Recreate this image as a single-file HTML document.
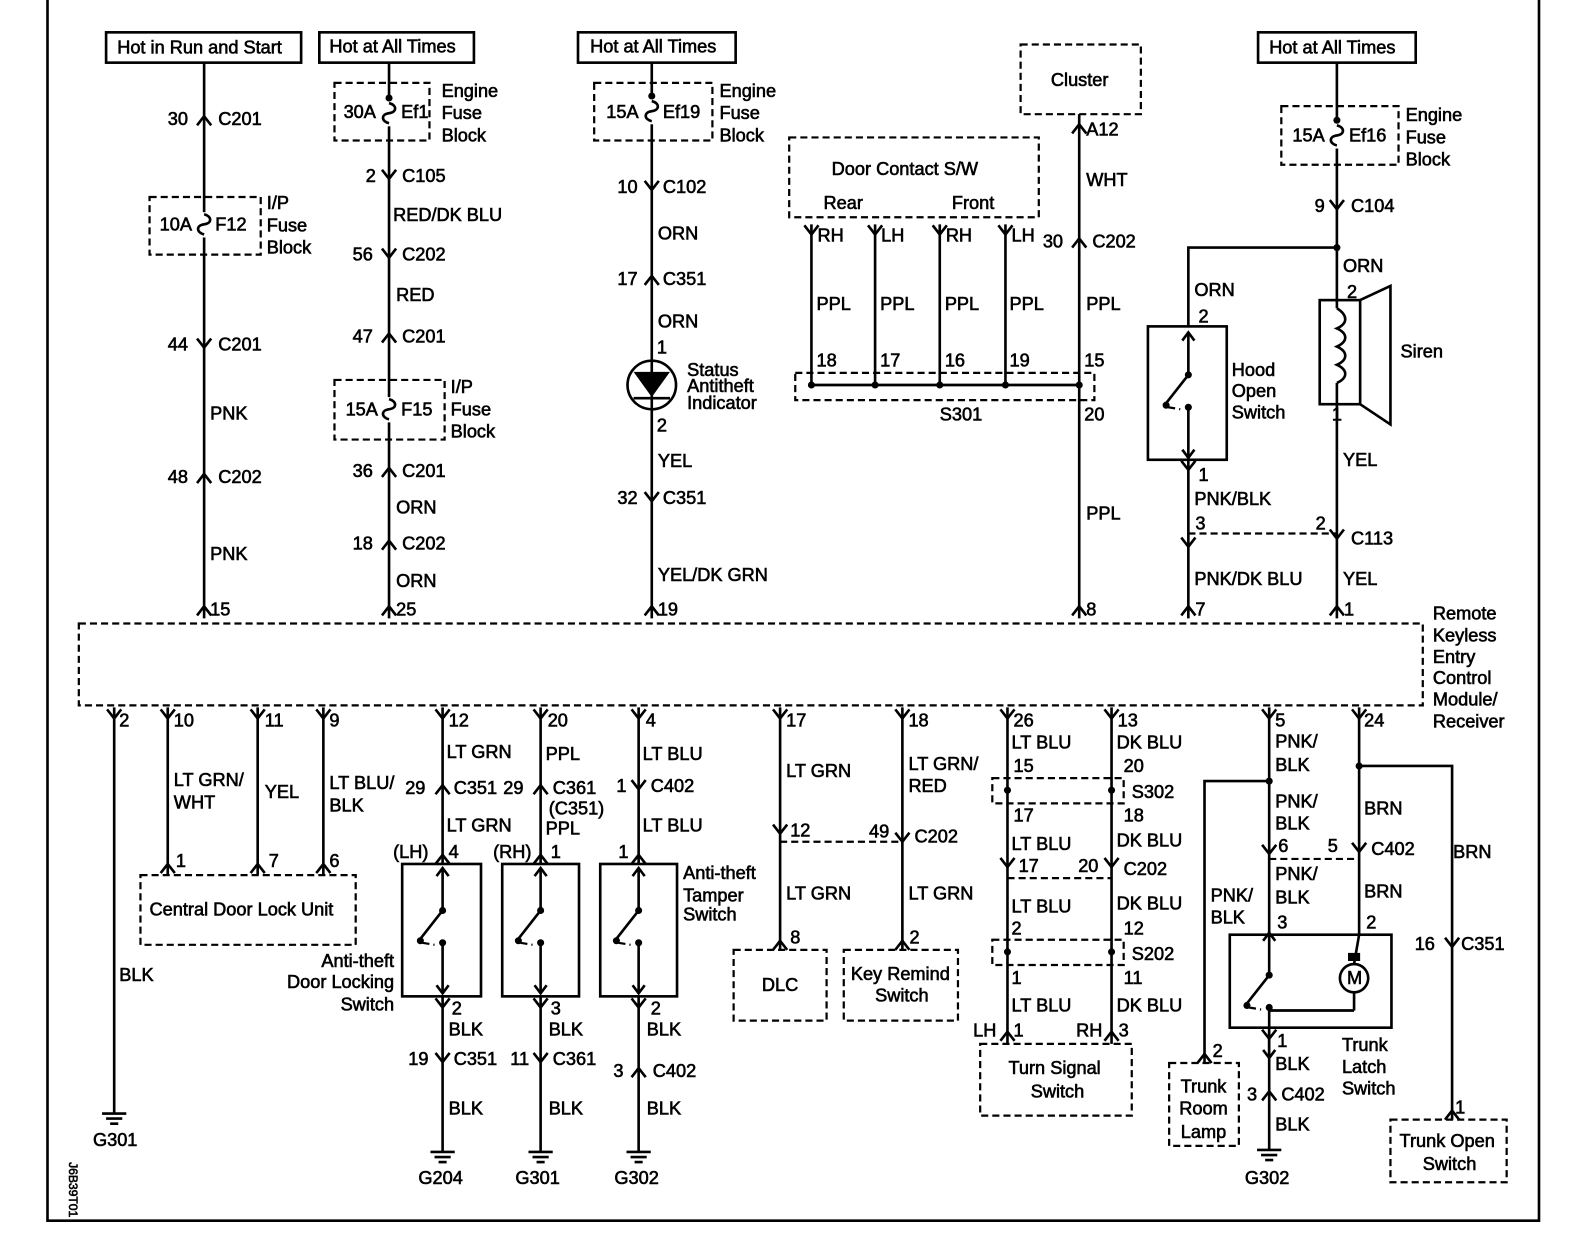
<!DOCTYPE html>
<html><head><meta charset="utf-8"><style>
html,body{margin:0;padding:0;background:#fff}
svg{display:block}
text{font-family:"Liberation Sans",sans-serif;font-size:18px;fill:#000;dominant-baseline:central;stroke:#000;stroke-width:0.6}
.w{stroke:#000;stroke-width:2.6;fill:none}
.d{stroke:#000;stroke-width:2.2;fill:none;stroke-dasharray:7,4}
.b{stroke:#000;stroke-width:2.6;fill:#fff}
</style></head><body>
<svg width="1584" height="1248" viewBox="0 0 1584 1248" xmlns="http://www.w3.org/2000/svg">
<defs>
<path id="cu" d="M-7,6 L0,-3 L7,6" stroke="#000" stroke-width="2.6" fill="none"/>
<path id="cd" d="M-7,-6 L0,3 L7,-6" stroke="#000" stroke-width="2.6" fill="none"/>
<path id="fu" d="M0,-10 C8,-8 8,-1 0,0 C-8,1 -8,8 0,10" stroke="#000" stroke-width="2.6" fill="none"/>
<g id="gnd"><line x1="-12" y1="0" x2="12" y2="0" class="w"/><line x1="-8" y1="5" x2="8" y2="5" class="w"/><line x1="-4" y1="10" x2="4" y2="10" class="w"/></g>
<g id="sw"><line x1="0" y1="-62" x2="0" y2="-20" class="w"/><path d="M-6,-54 L0,-62 L6,-54" class="w"/><line x1="0" y1="-20" x2="-22" y2="8" class="w"/><circle cx="0" cy="-20" r="3.5"/><circle cx="-22" cy="10" r="3.5"/><circle cx="0" cy="12" r="3.5"/><path d="M-20,12 L-8,14" class="d"/><line x1="0" y1="12" x2="0" y2="62" class="w"/><path d="M-6,54 L0,62 L6,54" class="w"/></g>
</defs>
<g transform="scale(1.0105)">
<rect x="47" y="-3" width="1476" height="1211" class="w"/>
<rect x="78" y="617" width="1330" height="81" class="d"/>
<text x="1418" y="607">Remote</text><text x="1418" y="629">Keyless</text><text x="1418" y="650">Entry</text><text x="1418" y="671">Control</text><text x="1418" y="692">Module/</text><text x="1418" y="714">Receiver</text>

<rect x="105" y="32" width="193" height="30" class="b"/><text x="116" y="47">Hot in Run and Start</text>
<line x1="202" y1="62" x2="202" y2="612" class="w"/>
<use href="#cu" x="202" y="118"/><text x="166" y="118">30</text><text x="216" y="118">C201</text>
<rect x="148" y="195" width="110" height="57" class="d"/><rect x="195" y="210" width="14" height="25" fill="#fff"/><use href="#fu" x="202" y="222"/>
<text x="158" y="222">10A</text><text x="213" y="222">F12</text>
<text x="264" y="201">I/P</text><text x="264" y="223">Fuse</text><text x="264" y="245">Block</text>
<use href="#cd" x="202" y="341"/><text x="166" y="341">44</text><text x="216" y="341">C201</text>
<text x="208" y="409">PNK</text>
<use href="#cu" x="202" y="472"/><text x="166" y="472">48</text><text x="216" y="472">C202</text>
<text x="208" y="548">PNK</text>
<use href="#cu" x="202" y="603"/><text x="208" y="603">15</text>

<rect x="316" y="32" width="153" height="30" class="b"/><text x="326" y="46">Hot at All Times</text>
<line x1="385" y1="62" x2="385" y2="612" class="w"/>
<rect x="331" y="82" width="94" height="57" class="d"/><rect x="378" y="100" width="14" height="25" fill="#fff"/><use href="#fu" x="385" y="112"/><circle cx="385" cy="97" r="3.5"/>
<text x="340" y="111">30A</text><text x="397" y="111">Ef1</text>
<text x="437" y="90">Engine</text><text x="437" y="112">Fuse</text><text x="437" y="134">Block</text>
<use href="#cd" x="385" y="174"/><text x="362" y="174">2</text><text x="398" y="174">C105</text>
<text x="389" y="213">RED/DK BLU</text>
<use href="#cd" x="385" y="252"/><text x="349" y="252">56</text><text x="398" y="252">C202</text>
<text x="392" y="292">RED</text>
<use href="#cu" x="385" y="333"/><text x="349" y="333">47</text><text x="398" y="333">C201</text>
<rect x="331" y="376" width="109" height="59" class="d"/><rect x="378" y="393" width="14" height="25" fill="#fff"/><use href="#fu" x="385" y="405"/>
<text x="342" y="405">15A</text><text x="397" y="405">F15</text>
<text x="446" y="383">I/P</text><text x="446" y="405">Fuse</text><text x="446" y="427">Block</text>
<use href="#cu" x="385" y="466"/><text x="349" y="466">36</text><text x="398" y="466">C201</text>
<text x="392" y="502">ORN</text>
<use href="#cu" x="385" y="538"/><text x="349" y="538">18</text><text x="398" y="538">C202</text>
<text x="392" y="575">ORN</text>
<use href="#cu" x="385" y="603"/><text x="392" y="603">25</text>

<rect x="572" y="32" width="156" height="30" class="b"/><text x="584" y="46">Hot at All Times</text>
<line x1="645" y1="62" x2="645" y2="612" class="w"/>
<rect x="588" y="82" width="117" height="57" class="d"/><rect x="638" y="98" width="14" height="25" fill="#fff"/><use href="#fu" x="645" y="110"/><circle cx="645" cy="95" r="3.5"/>
<text x="600" y="111">15A</text><text x="656" y="111">Ef19</text>
<text x="712" y="90">Engine</text><text x="712" y="112">Fuse</text><text x="712" y="134">Block</text>
<use href="#cd" x="645" y="185"/><text x="611" y="185">10</text><text x="656" y="185">C102</text>
<text x="651" y="231">ORN</text>
<use href="#cu" x="645" y="276"/><text x="611" y="276">17</text><text x="656" y="276">C351</text>
<text x="651" y="318">ORN</text><text x="650" y="344">1</text>
<circle cx="645" cy="381" r="24" class="b"/><line x1="645" y1="357" x2="645" y2="405" class="w"/><path d="M627,368 L663,368 L645,393 Z"/><line x1="627" y1="394" x2="663" y2="394" class="w"/>
<text x="650" y="421">2</text>
<text x="680" y="366">Status</text><text x="680" y="382">Antitheft</text><text x="680" y="399">Indicator</text>
<text x="651" y="456">YEL</text>
<use href="#cd" x="645" y="493"/><text x="611" y="493">32</text><text x="656" y="493">C351</text>
<text x="651" y="569">YEL/DK GRN</text>
<use href="#cu" x="645" y="603"/><text x="651" y="603">19</text>

<rect x="781" y="136" width="247" height="79" class="d"/>
<text x="823" y="167">Door Contact S/W</text><text x="815" y="201">Rear</text><text x="942" y="201">Front</text>
<g class="w"><line x1="803" y1="222" x2="803" y2="381"/><line x1="866" y1="222" x2="866" y2="381"/><line x1="930" y1="222" x2="930" y2="381"/><line x1="995" y1="222" x2="995" y2="381"/><line x1="803" y1="381" x2="1068" y2="381"/></g>
<use href="#cd" x="803" y="229"/><use href="#cd" x="866" y="229"/><use href="#cd" x="930" y="229"/><use href="#cd" x="995" y="229"/>
<text x="809" y="233">RH</text><text x="872" y="233">LH</text><text x="936" y="233">RH</text><text x="1001" y="233">LH</text>
<text x="808" y="301">PPL</text><text x="871" y="301">PPL</text><text x="935" y="301">PPL</text><text x="999" y="301">PPL</text>
<text x="808" y="357">18</text><text x="871" y="357">17</text><text x="935" y="357">16</text><text x="999" y="357">19</text><text x="1073" y="357">15</text>
<rect x="787" y="369" width="296" height="27" class="d"/>
<circle cx="803" cy="381" r="3.5"/><circle cx="866" cy="381" r="3.5"/><circle cx="930" cy="381" r="3.5"/><circle cx="995" cy="381" r="3.5"/><circle cx="1068" cy="381" r="3.5"/>
<text x="930" y="410">S301</text><text x="1073" y="410">20</text>
<rect x="1010" y="44" width="119" height="69" class="d"/><text x="1040" y="79">Cluster</text>
<line x1="1068" y1="113" x2="1068" y2="612" class="w"/>
<use href="#cu" x="1068" y="126"/><text x="1075" y="128">A12</text>
<text x="1075" y="178">WHT</text>
<use href="#cu" x="1068" y="239"/><text x="1032" y="239">30</text><text x="1081" y="239">C202</text>
<text x="1075" y="301">PPL</text><text x="1075" y="508">PPL</text>
<use href="#cu" x="1068" y="603"/><text x="1075" y="603">8</text>

<rect x="1245" y="32" width="156" height="30" class="b"/><text x="1256" y="47">Hot at All Times</text>
<line x1="1323" y1="62" x2="1323" y2="297" class="w"/>
<rect x="1268" y="105" width="116" height="58" class="d"/><rect x="1316" y="122" width="14" height="25" fill="#fff"/><use href="#fu" x="1323" y="134"/><circle cx="1323" cy="119" r="3.5"/>
<text x="1279" y="134">15A</text><text x="1335" y="134">Ef16</text>
<text x="1391" y="114">Engine</text><text x="1391" y="136">Fuse</text><text x="1391" y="158">Block</text>
<use href="#cd" x="1323" y="204"/><text x="1301" y="204">9</text><text x="1337" y="204">C104</text>
<circle cx="1323" cy="245" r="3.5"/>
<polyline points="1323,245 1176,245 1176,323" class="w"/>
<text x="1182" y="287">ORN</text><text x="1186" y="313">2</text>
<rect x="1136" y="323" width="78" height="132" class="b"/>
<use href="#sw" x="1176" y="391"/>
<text x="1219" y="366">Hood</text><text x="1219" y="387">Open</text><text x="1219" y="408">Switch</text>
<line x1="1176" y1="455" x2="1176" y2="612" class="w"/>
<use href="#cd" x="1176" y="462"/><text x="1186" y="470">1</text>
<text x="1182" y="494">PNK/BLK</text><text x="1183" y="518">3</text><text x="1302" y="518">2</text>
<line x1="1176" y1="528" x2="1323" y2="528" class="d"/>
<use href="#cd" x="1176" y="538"/><use href="#cd" x="1323" y="530"/><text x="1337" y="533">C113</text>
<text x="1182" y="573">PNK/DK BLU</text>
<use href="#cu" x="1176" y="603"/><text x="1183" y="603">7</text>
<text x="1329" y="263">ORN</text><text x="1333" y="289">2</text>
<rect x="1306" y="297" width="40" height="103" class="b"/>
<path d="M1323,305 C1334,312 1334,320 1323,325 C1334,330 1334,338 1323,343 C1334,348 1334,356 1323,361 C1334,366 1334,374 1323,379" class="w"/>
<line x1="1323" y1="297" x2="1323" y2="305" class="w"/><line x1="1323" y1="379" x2="1323" y2="400" class="w"/>
<polyline points="1346,297 1376,283 1376,420 1346,400" class="w"/>
<text x="1386" y="348">Siren</text>
<line x1="1323" y1="400" x2="1323" y2="612" class="w"/>
<text x="1318" y="410">1</text>
<text x="1329" y="455">YEL</text><text x="1329" y="573">YEL</text>
<use href="#cu" x="1323" y="603"/><text x="1330" y="603">1</text>

<g>
<use href="#cd" x="113" y="708"/><text x="118" y="713">2</text>
<use href="#cd" x="166" y="708"/><text x="172" y="713">10</text>
<use href="#cd" x="255" y="708"/><text x="262" y="713">11</text>
<use href="#cd" x="320" y="708"/><text x="326" y="713">9</text>
<use href="#cd" x="438" y="708"/><text x="444" y="713">12</text>
<use href="#cd" x="535" y="708"/><text x="542" y="713">20</text>
<use href="#cd" x="632" y="708"/><text x="639" y="713">4</text>
<use href="#cd" x="772" y="708"/><text x="778" y="713">17</text>
<use href="#cd" x="893" y="708"/><text x="899" y="713">18</text>
<use href="#cd" x="997" y="708"/><text x="1003" y="713">26</text>
<use href="#cd" x="1100" y="708"/><text x="1106" y="713">13</text>
<use href="#cd" x="1256" y="708"/><text x="1262" y="713">5</text>
<use href="#cd" x="1345" y="708"/><text x="1350" y="713">24</text>
</g>
<line x1="113" y1="700" x2="113" y2="1102" class="w"/><use href="#gnd" x="113" y="1102"/>
<text x="118" y="965">BLK</text><text x="92" y="1128">G301</text>
<text x="72" y="1150" transform="rotate(90 72 1150)" style="font-size:12px">J6B39T01</text>
<line x1="166" y1="700" x2="166" y2="866" class="w"/><use href="#cu" x="166" y="858"/>
<text x="172" y="772">LT GRN/</text><text x="172" y="794">WHT</text><text x="174" y="852">1</text>
<line x1="255" y1="700" x2="255" y2="866" class="w"/><use href="#cu" x="255" y="858"/>
<text x="262" y="784">YEL</text><text x="266" y="852">7</text>
<line x1="320" y1="700" x2="320" y2="866" class="w"/><use href="#cu" x="320" y="858"/>
<text x="326" y="775">LT BLU/</text><text x="326" y="797">BLK</text><text x="326" y="852">6</text>
<rect x="139" y="866" width="213" height="69" class="d"/><text x="148" y="900">Central Door Lock Unit</text>

<line x1="438" y1="700" x2="438" y2="855" class="w"/><use href="#cu" x="438" y="780"/><use href="#cu" x="438" y="849"/>
<text x="442" y="744">LT GRN</text><text x="401" y="780">29</text><text x="449" y="780">C351</text><text x="442" y="817">LT GRN</text>
<text x="389" y="843">(LH)</text><text x="444" y="843">4</text>
<rect x="398" y="855" width="78" height="131" class="b"/><use href="#sw" x="438" y="921"/>
<text x="390" y="951" text-anchor="end">Anti-theft</text><text x="390" y="972" text-anchor="end">Door Locking</text><text x="390" y="994" text-anchor="end">Switch</text>
<line x1="438" y1="986" x2="438" y2="1140" class="w"/><use href="#cd" x="438" y="994"/><text x="447" y="998">2</text>
<text x="444" y="1019">BLK</text><use href="#cd" x="438" y="1048"/><text x="404" y="1048">19</text><text x="449" y="1048">C351</text>
<text x="444" y="1097">BLK</text><use href="#gnd" x="438" y="1140"/><text x="414" y="1166">G204</text>
<line x1="535" y1="700" x2="535" y2="855" class="w"/><use href="#cu" x="535" y="780"/><use href="#cu" x="535" y="849"/>
<text x="540" y="746">PPL</text><text x="498" y="780">29</text><text x="547" y="780">C361</text><text x="543" y="800">(C351)</text><text x="540" y="820">PPL</text>
<text x="488" y="843">(RH)</text><text x="545" y="843">1</text>
<rect x="497" y="855" width="76" height="131" class="b"/><use href="#sw" x="535" y="921"/>
<line x1="535" y1="986" x2="535" y2="1140" class="w"/><use href="#cd" x="535" y="994"/><text x="545" y="998">3</text>
<text x="543" y="1019">BLK</text><use href="#cd" x="535" y="1048"/><text x="505" y="1048">11</text><text x="547" y="1048">C361</text>
<text x="543" y="1097">BLK</text><use href="#gnd" x="535" y="1140"/><text x="510" y="1166">G301</text>
<line x1="632" y1="700" x2="632" y2="855" class="w"/><use href="#cd" x="632" y="778"/><use href="#cu" x="632" y="849"/>
<text x="636" y="746">LT BLU</text><text x="610" y="778">1</text><text x="644" y="778">C402</text><text x="636" y="817">LT BLU</text><text x="612" y="843">1</text>
<rect x="594" y="855" width="76" height="131" class="b"/><use href="#sw" x="632" y="921"/>
<text x="676" y="864">Anti-theft</text><text x="676" y="886">Tamper</text><text x="676" y="905">Switch</text>
<line x1="632" y1="986" x2="632" y2="1140" class="w"/><use href="#cd" x="632" y="994"/><text x="644" y="998">2</text>
<text x="640" y="1019">BLK</text><use href="#cu" x="632" y="1060"/><text x="607" y="1060">3</text><text x="646" y="1060">C402</text>
<text x="640" y="1097">BLK</text><use href="#gnd" x="632" y="1140"/><text x="608" y="1166">G302</text>

<line x1="772" y1="700" x2="772" y2="940" class="w"/><use href="#cd" x="772" y="822"/><use href="#cu" x="772" y="934"/>
<text x="778" y="763">LT GRN</text><text x="782" y="822">12</text><line x1="772" y1="833" x2="893" y2="833" class="d"/>
<text x="778" y="884">LT GRN</text><text x="782" y="928">8</text>
<rect x="726" y="940" width="92" height="70" class="d"/><text x="754" y="975">DLC</text>
<line x1="893" y1="700" x2="893" y2="940" class="w"/><use href="#cd" x="893" y="830"/><use href="#cu" x="893" y="934"/>
<text x="899" y="756">LT GRN/</text><text x="899" y="778">RED</text><text x="860" y="823">49</text><text x="905" y="828">C202</text>
<text x="899" y="884">LT GRN</text><text x="900" y="928">2</text>
<rect x="835" y="940" width="113" height="70" class="d"/><text x="842" y="964">Key Remind</text><text x="866" y="985">Switch</text>

<line x1="997" y1="700" x2="997" y2="1033" class="w"/><line x1="1100" y1="700" x2="1100" y2="1033" class="w"/>
<text x="1001" y="735">LT BLU</text><text x="1003" y="758">15</text>
<rect x="982" y="770" width="130" height="25" class="d"/><circle cx="997" cy="782" r="3.5"/><circle cx="1100" cy="782" r="3.5"/>
<text x="1003" y="807">17</text><text x="1001" y="835">LT BLU</text>
<use href="#cd" x="997" y="855"/><text x="1008" y="857">17</text><use href="#cd" x="1100" y="855"/><text x="1067" y="857">20</text><text x="1112" y="860">C202</text>
<line x1="997" y1="869" x2="1100" y2="869" class="d"/>
<text x="1001" y="897">LT BLU</text><text x="1001" y="919">2</text>
<rect x="982" y="930" width="130" height="25" class="d"/><circle cx="997" cy="942" r="3.5"/><circle cx="1100" cy="942" r="3.5"/>
<text x="1001" y="968">1</text><text x="1001" y="995">LT BLU</text>
<use href="#cu" x="997" y="1024"/><text x="963" y="1020">LH</text><text x="1003" y="1020">1</text>
<text x="1105" y="735">DK BLU</text><text x="1112" y="758">20</text><text x="1120" y="784">S302</text><text x="1112" y="807">18</text>
<text x="1105" y="832">DK BLU</text><text x="1105" y="894">DK BLU</text><text x="1112" y="919">12</text><text x="1120" y="944">S202</text>
<text x="1112" y="968">11</text><text x="1105" y="995">DK BLU</text>
<use href="#cu" x="1100" y="1024"/><text x="1065" y="1020">RH</text><text x="1107" y="1020">3</text>
<rect x="970" y="1033" width="150" height="71" class="d"/><text x="998" y="1057">Turn Signal</text><text x="1020" y="1080">Switch</text>

<line x1="1256" y1="700" x2="1256" y2="925" class="w"/><circle cx="1256" cy="773" r="3.5"/>
<polyline points="1256,773 1192,773 1192,1052" class="w"/><use href="#cu" x="1192" y="1046"/><text x="1200" y="1040">2</text>
<text x="1262" y="734">PNK/</text><text x="1262" y="757">BLK</text><text x="1262" y="793">PNK/</text><text x="1262" y="815">BLK</text>
<use href="#cd" x="1256" y="842"/><text x="1265" y="837">6</text><line x1="1256" y1="850" x2="1345" y2="850" class="d"/>
<text x="1262" y="865">PNK/</text><text x="1262" y="888">BLK</text><text x="1264" y="913">3</text>
<text x="1198" y="886">PNK/</text><text x="1198" y="908">BLK</text>
<rect x="1217" y="925" width="160" height="92" class="b"/>
<use href="#sw" x="1256" y="985"/>
<line x1="1256" y1="1000" x2="1340" y2="1000" class="w"/><line x1="1340" y1="1000" x2="1340" y2="982" class="w"/>
<line x1="1345" y1="925" x2="1340" y2="954" class="w"/>
<rect x="1334" y="943" width="12" height="8" fill="#000"/>
<circle cx="1340" cy="968" r="14" class="b"/><text x="1333" y="968">M</text>
<line x1="1256" y1="1017" x2="1256" y2="1138" class="w"/><use href="#cd" x="1256" y="1025"/><text x="1264" y="1030">1</text>
<text x="1262" y="1053">BLK</text><use href="#cu" x="1256" y="1083"/><text x="1234" y="1083">3</text><text x="1268" y="1083">C402</text>
<text x="1262" y="1113">BLK</text><use href="#gnd" x="1256" y="1138"/><text x="1232" y="1166">G302</text>
<rect x="1157" y="1052" width="69" height="82" class="d"/><text x="1191" y="1075" text-anchor="middle">Trunk</text><text x="1191" y="1097" text-anchor="middle">Room</text><text x="1191" y="1120" text-anchor="middle">Lamp</text>
<line x1="1345" y1="700" x2="1345" y2="925" class="w"/><circle cx="1345" cy="758" r="3.5"/>
<polyline points="1345,758 1437,758 1437,1108" class="w"/>
<text x="1350" y="800">BRN</text><use href="#cd" x="1345" y="840"/><text x="1314" y="837">5</text><text x="1357" y="840">C402</text>
<text x="1350" y="882">BRN</text><text x="1352" y="913">2</text>
<text x="1438" y="843">BRN</text><use href="#cd" x="1437" y="934"/><text x="1400" y="934">16</text><text x="1446" y="934">C351</text>
<text x="1440" y="1096">1</text><use href="#cu" x="1437" y="1102"/>
<rect x="1376" y="1108" width="115" height="62" class="d"/><text x="1385" y="1129">Trunk Open</text><text x="1408" y="1152">Switch</text>
<text x="1328" y="1034">Trunk</text><text x="1328" y="1056">Latch</text><text x="1328" y="1077">Switch</text>
</g>
</svg>
</body></html>
